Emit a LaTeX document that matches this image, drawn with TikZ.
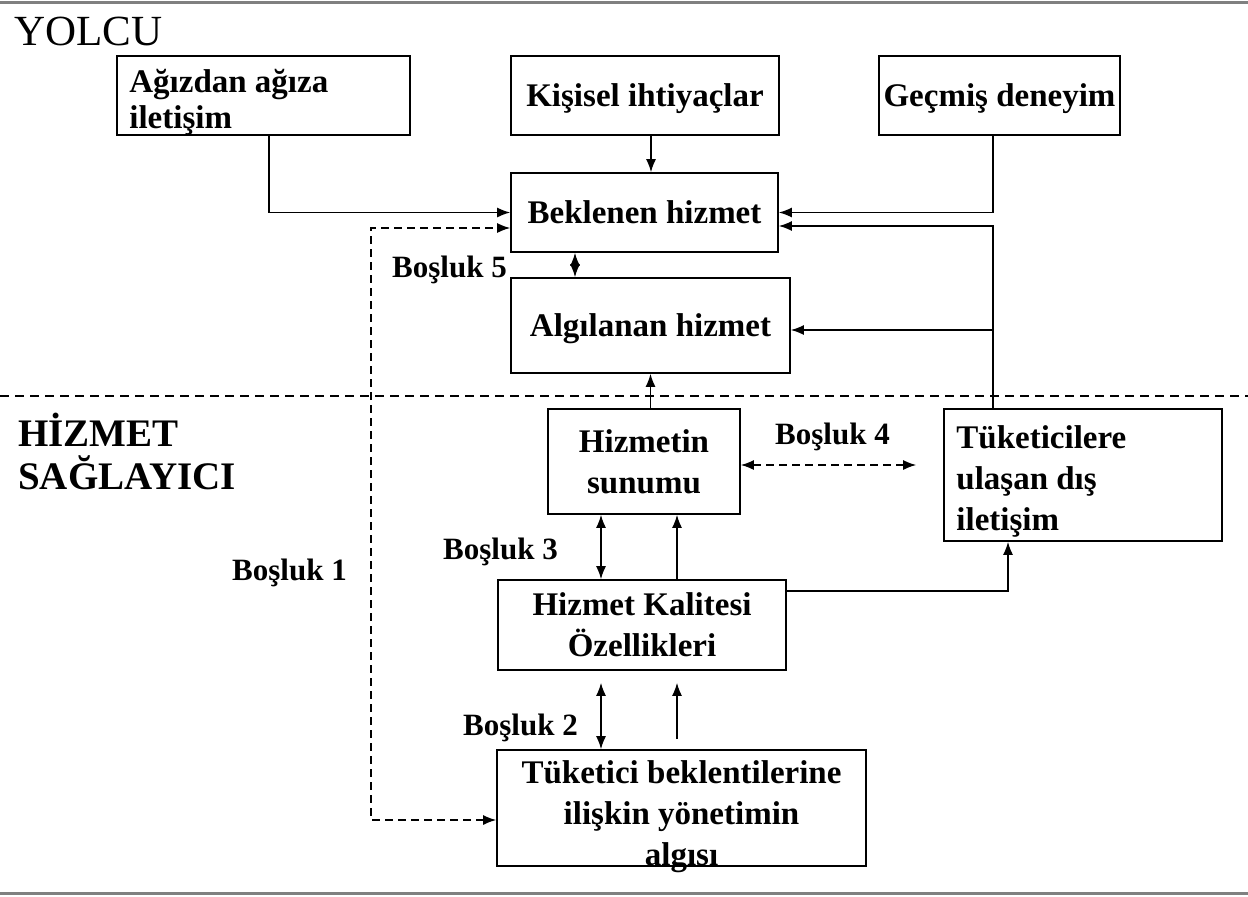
\documentclass[tikz,border=0pt]{standalone}
\usepackage{fontspec}
\setmainfont{Liberation Serif}
\usetikzlibrary{arrows.meta}
\begin{document}
\begin{tikzpicture}[x=1pt,y=-1pt,
  box/.style={draw, line width=1.6pt, inner sep=0pt, align=center,
    font=\bfseries\fontsize{33}{41}\selectfont},
  oneline/.style={text depth=0pt},
  txt/.style={inner sep=0pt, font=\bfseries\fontsize{33}{41}\selectfont},
  lbl/.style={inner sep=0pt, anchor=west, font=\bfseries\fontsize{31}{36}\selectfont},
  tip/.tip={Latex[length=13pt,width=10pt]},
  conn/.style={line width=1.5pt, -tip},
  both/.style={line width=1.5pt, tip-tip},
  dsh/.style={dash pattern=on 8pt off 5pt}]
\useasboundingbox (0,0) rectangle (1248,897);

% frame lines and the divider between the two sides
\draw[gray, line width=3pt] (0,2) -- (1248,2);
\draw[gray, line width=3pt] (0,893) -- (1248,893);
\draw[line width=1.5pt, dash pattern=on 9pt off 6pt] (0,396) -- (1248,396);

% side titles
\node[inner sep=0pt, anchor=west, font=\fontsize{43}{46}\selectfont] (yolcu) at (14,31) {YOLCU};
\node[inner sep=0pt, anchor=west, align=left, font=\bfseries\fontsize{39}{43}\selectfont] (saglayici) at (18,451) {HİZMET\\SAĞLAYICI};

% boxes
\node[box, minimum width=293pt, minimum height=79pt] (agiz) at (263.5,95.5) {};
\node[txt, anchor=west, align=left, font=\bfseries\fontsize{33}{36}\selectfont] (agiztxt) at ([xshift=13pt,yshift=-7pt]agiz.west) {Ağızdan ağıza\\iletişim};
\node[box, oneline, minimum width=268pt, minimum height=79pt] (kisisel) at (645,95.5) {Kişisel ihtiyaçlar};
\node[box, oneline, minimum width=241pt, minimum height=79pt] (gecmis) at (999.5,95.5) {Geçmiş deneyim};
\node[box, minimum width=267pt, minimum height=79pt] (beklenen) at (644.5,212.5) {Beklenen hizmet};
\node[box, oneline, minimum width=279pt, minimum height=95pt] (algilanan) at (650.5,325.5) {Algılanan hizmet};
\node[box, minimum width=192pt, minimum height=105pt] (sunum) at (644,461.5) {Hizmetin\\sunumu};
\node[box, minimum width=278pt, minimum height=132pt] (disilet) at (1083,475) {};
\node[txt, anchor=west, align=left] (disilettxt) at ([xshift=13pt,yshift=-6pt]disilet.west) {Tüketicilere\\ulaşan dış\\iletişim};
\node[box, minimum width=288pt, minimum height=90pt] (kalite) at (642,625) {Hizmet Kalitesi\\Özellikleri};
\node[box, minimum width=369pt, minimum height=116pt] (yonetim) at (681.5,808) {};
\node[txt, align=center] (yonetimtxt) at ([yshift=-9pt]yonetim.center) {Tüketici beklentilerine\\ilişkin yönetimin\\algısı};

% gap labels
\node[lbl] (g5) at (392,270) {Boşluk 5};
\node[lbl] (g4) at (775,437) {Boşluk 4};
\node[lbl] (g3) at (443,552) {Boşluk 3};
\node[lbl] (g2) at (463,728) {Boşluk 2};
\node[lbl] (g1) at (232,573) {Boşluk 1};

% helper points on the boxes
\coordinate (b1) at ([yshift=-15.5pt]beklenen.west);
\coordinate (c1) at ([xshift=-139pt]b1);
\coordinate (b2) at ([yshift=-13.5pt]beklenen.east);
\coordinate (d1) at ([xshift=-90pt]disilet.north);
\coordinate (a1) at ([yshift=-4.5pt]algilanan.east);
\coordinate (b5) at ([xshift=-69.5pt]beklenen.south);
\coordinate (s4) at ([yshift=-3.5pt]sunum.east);
\coordinate (e4) at ([xshift=-27pt]disilet.west);
\coordinate (s3) at ([xshift=-43pt]sunum.south);
\coordinate (s3b) at ([xshift=33pt]sunum.south);
\coordinate (k4) at ([xshift=-75pt]disilet.south);
\coordinate (k2) at ([yshift=-12pt]kalite.south);
\coordinate (y2) at ([xshift=-80.5pt]yonetim.north);
\coordinate (y2b) at ([xshift=-4.5pt,yshift=10pt]yonetim.north);

% connectors in the upper part
\draw[conn] ([xshift=5.5pt]agiz.south) |- (beklenen.west);
\draw[conn] ([xshift=6pt]kisisel.south) -- ([xshift=6.5pt]beklenen.north);
\draw[conn] ([xshift=-6.5pt]gecmis.south) |- (beklenen.east);
\draw[conn] (d1) |- (b2);
\draw[conn] (d1 |- a1) -- (a1);
\draw[both] (b5) -- (b5 |- algilanan.north);

% connectors in the lower part
\draw[conn] (algilanan.south |- sunum.north) -- (algilanan.south);
\draw[both, dsh] (s4) -- (s4 -| e4);
\draw[both] (s3) -- (s3 |- kalite.north);
\draw[conn] (s3b |- kalite.north) -- (s3b);
\draw[conn] ([yshift=34pt]kalite.east) -| (k4);
\draw[both] (y2) -- (y2 |- k2);
\draw[conn] (y2b) -- (y2b |- k2);
\draw[both, dsh] ([yshift=-12pt]yonetim.west) -| (c1) -- (b1);
\end{tikzpicture}
\end{document}
